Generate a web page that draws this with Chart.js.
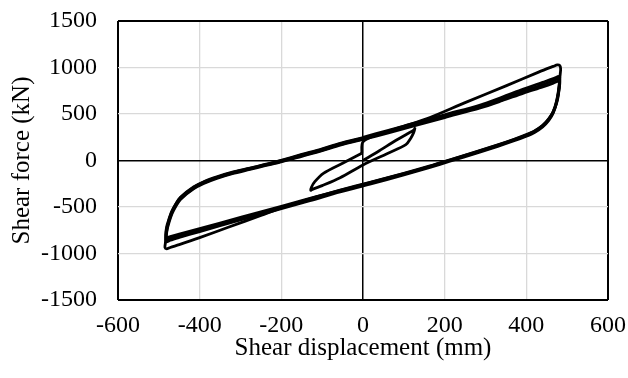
<!DOCTYPE html>
<html>
<head>
<meta charset="utf-8">
<script src="https://cdn.jsdelivr.net/npm/chart.js@4.4.1/dist/chart.umd.min.js"></script>
<style>
  html, body { margin: 0; padding: 0; background: #fff; }
  #wrap { width: 628px; height: 378px; position: relative; }
</style>
</head>
<body>
<div id="wrap"><canvas id="chart"></canvas></div>
<script>
(function () {
  "use strict";

  // axis ticks
  const xTicks = [-600, -400, -200, 0, 200, 400, 600];
  const yTicks = [-1500, -1000, -500, 0, 500, 1000, 1500];

  // small first cycle (about +/-125 mm)
  const smallLoopDisp = [0, 40, 80, 110, 125, 127, 124, 117, 105, 60, 0, -56, -100, -124, -128, -126, -118, -97, -50, -3];
  const smallLoopForce = [0, 105, 215, 290, 330, 345, 300, 240, 170, 75, -48, -185, -270, -310, -320, -285, -228, -138, -30, 77];

  // first large cycle (thin outer line, peak about 1030 kN)
  const firstCycleDisp = [-3, 0, 40, 100, 164, 250, 350, 430, 466, 476,
    482, 484, 483, 481, 479, 474, 466, 455, 440, 420,
    400, 370, 330, 280, 213, 164, 100, 17, -56, -130,
    -179, -250, -330, -400, -450, -472, -481, -485, -484, -482,
    -478, -470, -458, -447, -415, -390, -358, -320, -277, -240,
    -203, -150, -100, -56, 0];
  const firstCycleForce = [77, 200, 285, 368, 462, 622, 802, 950, 1012, 1028,
    1020, 985, 930, 850, 720, 615, 525, 445, 375, 315,
    275, 225, 165, 95, 5, -62, -142, -238, -322, -412,
    -478, -590, -718, -830, -905, -935, -950, -935, -890, -820,
    -690, -570, -465, -395, -285, -228, -176, -126, -82, -42,
    0, 65, 125, 185, 245];

  // repeated large cycles (the thick band)
  const bigLoopDisp = [0, 60, 127, 200, 287, 340, 393, 440, 466, 476, 481,
    482, 479, 474, 466, 455, 440, 420, 400, 370, 330, 280, 213, 164, 100, 17,
    -56, -130, -200, -300, -400, -450, -472, -481,
    -483, -481, -476, -468, -458, -447, -415, -390, -358, -320, -277, -240, -203, -150, -100, -56, 0];
  const cycle2Force = [250, 322, 402, 492, 597, 680, 768, 840, 880, 900, 905,
    870, 760, 640, 530, 450, 378, 318, 278, 228, 168, 98, 8, -58, -138, -234,
    -318, -408, -492, -612, -732, -792, -818, -830,
    -800, -715, -640, -545, -465, -398, -290, -232, -180, -130, -85, -45, -5, 60, 120, 180, 240];
  const cycle3Force = [238, 308, 388, 478, 580, 660, 745, 815, 857, 875, 880,
    850, 745, 630, 520, 440, 370, 310, 270, 220, 160, 90, 0, -66, -146, -244,
    -328, -420, -505, -626, -748, -810, -838, -852,
    -830, -740, -660, -560, -478, -408, -298, -240, -186, -136, -90, -50, -12, 52, 112, 172, 232];
  const cycle4Force = [226, 295, 374, 462, 565, 642, 725, 792, 832, 850, 855,
    830, 730, 620, 512, 432, 362, 302, 262, 212, 152, 82, -8, -74, -155, -254,
    -338, -432, -518, -640, -764, -828, -858, -875,
    -855, -765, -680, -575, -490, -418, -306, -248, -193, -142, -96, -56, -18, 45, 105, 165, 226];

  const FONT = "'Liberation Serif', 'Times New Roman', serif";

  function toPoints(xs, ys) {
    return xs.map(function (x, i) {
      return { x: x, y: ys[i] };
    });
  }

  function curve(xs, ys) {
    return {
      data: toPoints(xs, ys),
      showLine: true,
      borderColor: "#000",
      borderWidth: 2.8,
      pointRadius: 0,
      fill: false,
      tension: 0.3,
    };
  }

  function gridColor(ticks) {
    return function (ctx) {
      const v = ctx.tick.value;
      if (v === 0 || v === ticks[0] || v === ticks[ticks.length - 1]) {
        return "#000";
      }
      return "#d9d9d9";
    };
  }

  function gridWidth(ticks) {
    return function (ctx) {
      const v = ctx.tick.value;
      if (v === ticks[0] || v === ticks[ticks.length - 1]) return 2;
      if (v === 0) return 1.5;
      return 1.3;
    };
  }

  function plainLabel(value) {
    return String(value);
  }

  new Chart(document.getElementById("chart"), {
    type: "scatter",
    data: {
      datasets: [
        curve(smallLoopDisp, smallLoopForce),
        curve(firstCycleDisp, firstCycleForce),
        curve(bigLoopDisp, cycle2Force),
        curve(bigLoopDisp, cycle3Force),
        curve(bigLoopDisp, cycle4Force),
      ],
    },
    options: {
      responsive: true,
      maintainAspectRatio: false,
      animation: false,
      layout: { padding: { top: 21, right: 20, left: 0, bottom: 0 } },
      plugins: {
        legend: { display: false },
        tooltip: { enabled: false },
      },
      scales: {
        x: {
          type: "linear",
          min: xTicks[0],
          max: xTicks[xTicks.length - 1],
          afterBuildTicks: function (scale) {
            scale.ticks = xTicks.map(function (v) { return { value: v }; });
          },
          afterFit: function (scale) {
            scale.height = 78;
            scale.paddingLeft = 0;
            scale.paddingRight = 0;
          },
          ticks: {
            color: "#000",
            font: { family: FONT, size: 24 },
            padding: 11,
            maxRotation: 0,
            callback: plainLabel,
          },
          grid: {
            color: gridColor(xTicks),
            lineWidth: gridWidth(xTicks),
            drawTicks: false,
          },
          border: { display: false },
          title: {
            display: true,
            text: "Shear displacement (mm)",
            color: "#000",
            font: { family: FONT, size: 25 },
            padding: { top: 0, bottom: 15 },
          },
        },
        y: {
          type: "linear",
          min: yTicks[0],
          max: yTicks[yTicks.length - 1],
          afterBuildTicks: function (scale) {
            scale.ticks = yTicks.map(function (v) { return { value: v }; });
          },
          afterFit: function (scale) {
            scale.width = 118;
            scale.paddingTop = 0;
            scale.paddingBottom = 0;
          },
          ticks: {
            color: "#000",
            font: { family: FONT, size: 24 },
            padding: 21,
            callback: plainLabel,
          },
          grid: {
            color: gridColor(yTicks),
            lineWidth: gridWidth(yTicks),
            drawTicks: false,
          },
          border: { display: false },
          title: {
            display: true,
            text: "Shear force (kN)",
            color: "#000",
            font: { family: FONT, size: 25 },
            padding: { top: 7, bottom: 0 },
          },
        },
      },
    },
  });
})();
</script>
</body>
</html>
